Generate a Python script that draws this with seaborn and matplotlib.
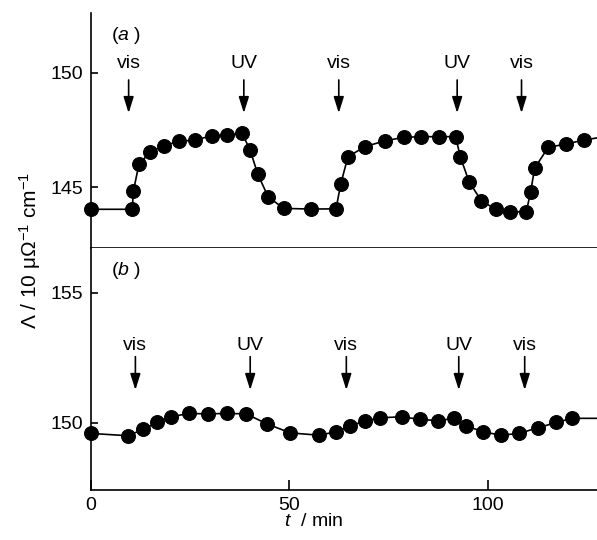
import matplotlib
matplotlib.use("Agg")
import matplotlib.pyplot as plt
import seaborn as sns
import pandas as pd

# ---------------- data ----------------
t_a = [0, 10.5, 10.8, 12.2, 15.1, 18.5, 22.3, 26.4, 30.6, 34.3, 38.2, 40.2, 42.1,
       44.7, 48.6, 55.4, 61.8, 63.0, 64.8, 69.0, 74.1, 78.8, 83.3, 87.7, 91.9,
       93.1, 95.3, 98.4, 102.0, 105.5, 109.7, 110.8, 111.8, 115.2, 119.6, 124.2, 131.0]
lam_a = [144.03, 144.03, 144.83, 146.0, 146.54, 146.8, 147.0, 147.05, 147.25, 147.27,
         147.34, 146.6, 145.57, 144.58, 144.07, 144.04, 144.05, 145.14, 146.32, 146.76,
         147.02, 147.17, 147.2, 147.2, 147.2, 146.32, 145.23, 144.4, 144.03, 143.92,
         143.92, 144.8, 145.82, 146.73, 146.88, 147.05, 147.25]

t_b = [0, 9.4, 13.2, 16.7, 20.3, 24.8, 29.5, 34.3, 39.2, 44.5, 50.3, 57.5, 61.8,
       65.4, 69.0, 73.0, 78.3, 82.9, 87.5, 91.5, 94.6, 98.8, 103.4, 107.9, 112.7,
       117.3, 121.1, 131.0]
lam_b = [149.59, 149.5, 149.74, 150.01, 150.23, 150.36, 150.34, 150.36, 150.34, 149.95,
         149.61, 149.52, 149.65, 149.87, 150.07, 150.19, 150.23, 150.13, 150.08, 150.17,
         149.88, 149.65, 149.52, 149.59, 149.81, 150.01, 150.17, 150.17]

arrow_t_a = [9.6, 38.6, 62.5, 92.3, 108.5]
arrow_t_b = [11.3, 40.2, 64.4, 92.7, 109.3]
arrow_labels = ["vis", "UV", "vis", "UV", "vis"]

xticks = [0, 50, 100]
yticks_a = [145, 150]
yticks_b = [150, 155]

# ---------------- style ----------------
sns.set_theme(style="ticks")
plt.rcParams["font.family"] = ["Liberation Sans", "DejaVu Sans"]
plt.rcParams["mathtext.fontset"] = "custom"
plt.rcParams["mathtext.rm"] = "Liberation Sans"
plt.rcParams["mathtext.it"] = "Liberation Sans:italic"
plt.rcParams["axes.linewidth"] = 1.2
for k in ("text.color", "axes.labelcolor", "xtick.color", "ytick.color", "axes.edgecolor"):
    plt.rcParams[k] = "black"
FS = 14

W, H = 597, 540
fig = plt.figure(figsize=(W / 100, H / 100), dpi=100)
left = 90.5 / W
width = 1 - left
ax_a = fig.add_axes([left, 1 - 248 / H, width, (248 - 13) / H])
ax_b = fig.add_axes([left, 1 - 490 / H, width, (490 - 248) / H])

df_a = pd.DataFrame({"t": t_a, "lam": lam_a})
df_b = pd.DataFrame({"t": t_b, "lam": lam_b})

for ax, df in ((ax_a, df_a), (ax_b, df_b)):
    sns.lineplot(data=df, x="t", y="lam", ax=ax, color="black", lw=1.2,
                 marker="o", markersize=10, markeredgecolor="black",
                 markerfacecolor="black", sort=False, estimator=None)
    for ln in ax.lines:
        ln.set_clip_on(False)
    ax.set_xlim(0, 127.5)
    ax.set_xlabel("")
    ax.set_ylabel("")
    for s in ("top", "right"):
        ax.spines[s].set_visible(False)
    ax.tick_params(axis="y", direction="in", length=5, width=1.2, labelsize=FS, pad=5,
                   colors="black")
    ax.tick_params(axis="x", direction="in", length=7, width=1.2, labelsize=FS, pad=5,
                   colors="black")

ax_a.set_ylim(142.34, 152.6)
ax_b.set_ylim(147.41, 156.73)
ax_a.set_yticks(yticks_a)
ax_b.set_yticks(yticks_b)
ax_a.set_xticks([])
ax_b.set_xticks(xticks)
ax_b.set_xticklabels([str(v) for v in xticks])

# arrows
def add_arrows(ax, times, y_text, y_top, y_tip):
    tr = ax.get_xaxis_transform()
    for t, lab in zip(times, arrow_labels):
        ax.annotate("", xy=(t, y_tip), xycoords=tr, xytext=(t, y_top), textcoords=tr,
                    arrowprops=dict(arrowstyle="-|>,head_length=0.7,head_width=0.22",
                                    color="black", lw=1.2, shrinkA=0, shrinkB=0,
                                    mutation_scale=14))
        ax.text(t, y_text, lab, transform=tr, ha="center", va="center", fontsize=FS)

add_arrows(ax_a, arrow_t_a, 0.787, 0.715, 0.574)
add_arrows(ax_b, arrow_t_b, 0.599, 0.551, 0.413)

ax_a.text(0.04, 0.905, r"($\mathit{a}$ )", transform=ax_a.transAxes, fontsize=FS,
          ha="left", va="center")
ax_b.text(0.04, 0.905, r"($\mathit{b}$ )", transform=ax_b.transAxes, fontsize=FS,
          ha="left", va="center")

fig.text(30 / W, 1 - 250 / H, r"Λ / 10 μΩ$^{-1}$ cm$^{-1}$", rotation=90,
         ha="center", va="center", fontsize=15)
fig.text(314 / W, 1 - 522 / H, r"$t$  / min", ha="center", va="center", fontsize=FS)

fig.savefig("out.png", dpi=100)
